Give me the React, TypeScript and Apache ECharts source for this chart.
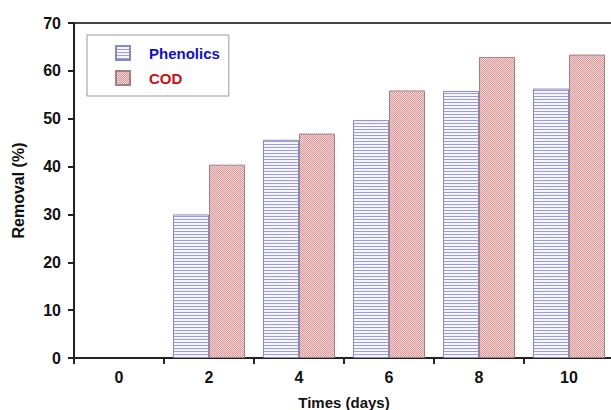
import React, { useEffect, useRef } from "react";
import * as echarts from "echarts";

const categories = ["0", "2", "4", "6", "8", "10"];
const phenolics = [null, 30, 45.6, 49.7, 55.8, 56.3];
const cod = [null, 40.4, 46.9, 55.9, 62.9, 63.4];
const yTicks = { min: 0, max: 70, interval: 10 };

function makeCanvas(w: number, h: number, draw: (ctx: CanvasRenderingContext2D) => void) {
  const c = document.createElement("canvas");
  c.width = w;
  c.height = h;
  const ctx = c.getContext("2d") as CanvasRenderingContext2D;
  draw(ctx);
  return c;
}

export default function App() {
  const ref = useRef<HTMLDivElement>(null);
  useEffect(() => {
    document.body.style.margin = "0";
    const chart = echarts.init(ref.current as HTMLDivElement, undefined, { renderer: "svg" });
    const phenCanvas = makeCanvas(4, 3, (ctx) => {
      ctx.fillStyle = "#f6f6ff";
      ctx.fillRect(0, 0, 4, 3);
      ctx.fillStyle = "#9c9ce4";
      ctx.fillRect(0, 0, 4, 1);
    });
    const codCanvas = makeCanvas(2, 2, (ctx) => {
      ctx.fillStyle = "#f4d4d4";
      ctx.fillRect(0, 0, 2, 2);
      ctx.fillStyle = "#d89a9a";
      ctx.fillRect(0, 0, 1, 1);
      ctx.fillRect(1, 1, 1, 1);
    });
    const font = "Arial, 'Liberation Sans', sans-serif";
    chart.setOption({
      animation: false,
      backgroundColor: "#ffffff",
      textStyle: { fontFamily: font },
      grid: {
        left: 74,
        top: 23,
        width: 540,
        height: 335,
        outerBoundsMode: "none",
        containLabel: false,
        show: true,
        borderColor: "#444",
        borderWidth: 2,
        backgroundColor: "transparent",
      },
      legend: {
        orient: "vertical",
        left: 87,
        top: 35,
        icon: "rect",
        itemWidth: 14,
        itemHeight: 14,
        itemGap: 9,
        padding: [10, 9, 10, 28],
        borderColor: "#999",
        borderWidth: 1,
        textStyle: { fontSize: 15, fontWeight: "bold", fontFamily: font, padding: [0, 0, 0, 14] },
        data: [
          { name: "Phenolics", textStyle: { color: "#1010c8" } },
          { name: "COD", textStyle: { color: "#c81010" } },
        ],
      },
      xAxis: {
        type: "category",
        data: categories,
        name: "Times (days)",
        nameLocation: "middle",
        nameGap: 37,
        nameTextStyle: { fontSize: 15, fontWeight: "bold", color: "#111", fontFamily: font },
        axisLine: { lineStyle: { color: "#222", width: 2 } },
        axisTick: { show: true, length: 6, lineStyle: { color: "#222", width: 2 } },
        axisLabel: { fontSize: 16, fontWeight: "bold", color: "#111", margin: 11, fontFamily: font },
        splitLine: { show: false },
      },
      yAxis: {
        type: "value",
        min: yTicks.min,
        max: yTicks.max,
        interval: yTicks.interval,
        name: "Removal (%)",
        nameLocation: "middle",
        nameGap: 48,
        nameTextStyle: { fontSize: 16, fontWeight: "bold", color: "#111", fontFamily: font },
        axisLine: { show: true, lineStyle: { color: "#222", width: 2 } },
        axisTick: { show: true, length: 6, lineStyle: { color: "#222", width: 2 } },
        axisLabel: { fontSize: 16, fontWeight: "bold", color: "#111", margin: 13, fontFamily: font },
        splitLine: { show: false },
      },
      series: [
        {
          name: "Phenolics",
          type: "bar",
          data: phenolics,
          barWidth: "40%",
          barGap: "0%",
          itemStyle: {
            color: { image: phenCanvas, repeat: "repeat" },
            borderColor: "#8a8ab8",
            borderWidth: 1,
          },
        },
        {
          name: "COD",
          type: "bar",
          data: cod,
          barWidth: "40%",
          barGap: "0%",
          itemStyle: {
            color: { image: codCanvas, repeat: "repeat" },
            borderColor: "#a08080",
            borderWidth: 1,
          },
        },
      ],
    });
    return () => chart.dispose();
  }, []);
  return (
    <div
      ref={ref}
      style={{ position: "fixed", left: 0, top: 0, width: 611, height: 410 }}
    />
  );
}
